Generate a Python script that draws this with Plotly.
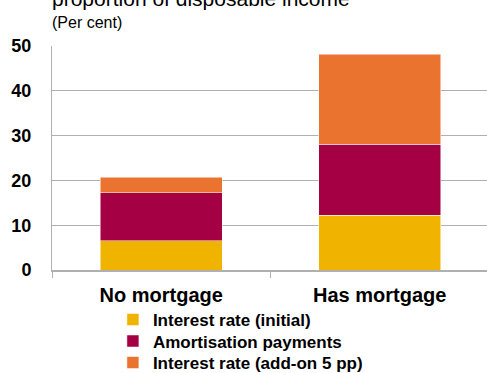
import plotly.graph_objects as go

# Debt service as a share of disposable income, by mortgage status
categories = ["No mortgage", "Has mortgage"]
interest_initial = [6.5, 12.2]
amortisation = [10.8, 15.85]
interest_addon = [3.4, 20.15]
y_ticks = [0, 10, 20, 30, 40, 50]

series = [
    ("Interest rate (initial)", interest_initial, "#F0B400"),
    ("Amortisation payments", amortisation, "#A50044"),
    ("Interest rate (add-on 5 pp)", interest_addon, "#EB7330"),
]

FONT = "Arial, Liberation Sans, sans-serif"

# one legend box per series, stacked under the x-axis labels
legend_ids = ["legend", "legend2", "legend3"]
legend_rows = [-0.223, -0.319, -0.415]

fig = go.Figure()
for (name, vals, color), lid in zip(series, legend_ids):
    fig.add_trace(go.Bar(
        x=categories, y=vals, name=name, legend=lid,
        marker=dict(color=color, line=dict(color="white", width=0.5)),
    ))

legend_style = dict(
    orientation="v",
    x=0.14, xanchor="left",
    yanchor="middle",
    font=dict(family=FONT, size=17, color="black", weight="bold"),
    bgcolor="rgba(0,0,0,0)",
    itemclick=False,
)

fig.update_layout(
    width=487, height=373,
    margin=dict(l=52, r=0, t=46, b=103, autoexpand=False),
    barmode="stack",
    bargap=0.443,
    plot_bgcolor="white",
    paper_bgcolor="white",
    font=dict(family=FONT, color="black"),
    showlegend=True,
    xaxis=dict(
        range=[-0.5, 1.491],
        showgrid=False,
        showline=True, linecolor="#B0B0B0", linewidth=1.5,
        ticks="outside", tickson="boundaries", ticklen=6, tickcolor="#B0B0B0",
        tickfont=dict(family=FONT, size=20, color="black", weight="bold"),
        ticklabelstandoff=6,
    ),
    yaxis=dict(
        range=[0, 50],
        tickvals=y_ticks,
        showgrid=True, gridcolor="#B0B0B0", gridwidth=1,
        showline=True, linecolor="#B0B0B0", linewidth=1,
        ticks="",
        zeroline=False,
        tickfont=dict(family=FONT, size=18, color="black", weight="bold"),
        ticklabelstandoff=16,
    ),
    annotations=[
        dict(
            text="proportion of disposable income",
            xref="paper", yref="paper",
            x=-0.005, y=1.15, xanchor="left", yanchor="bottom",
            showarrow=False,
            font=dict(family=FONT, size=21, color="black"),
        ),
        dict(
            text="(Per cent)",
            xref="paper", yref="paper",
            x=-0.005, y=1.103, xanchor="left", yanchor="middle",
            showarrow=False,
            font=dict(family=FONT, size=16, color="black"),
        ),
    ],
)
for lid, row in zip(legend_ids, legend_rows):
    fig.update_layout({lid: dict(legend_style, y=row)})

fig.write_html("out.html")
